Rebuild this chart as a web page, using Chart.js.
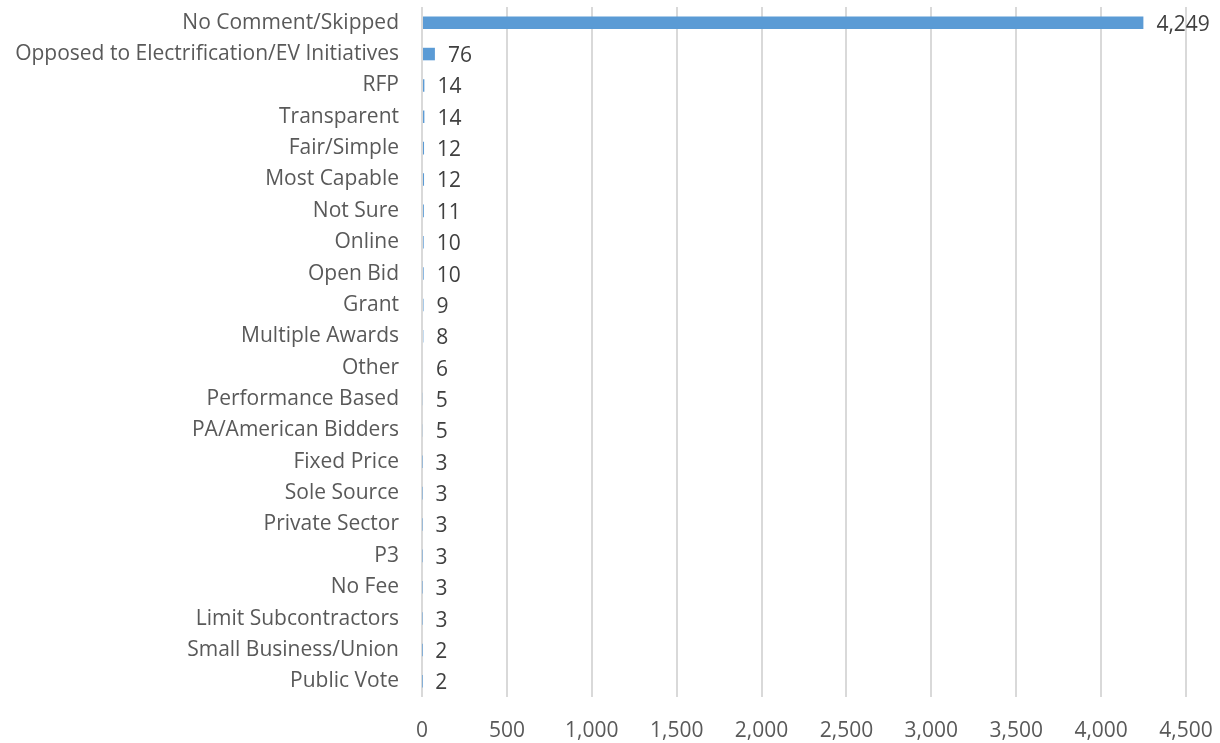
<!DOCTYPE html>
<html>
<head>
<meta charset="utf-8">
<script src="https://cdn.jsdelivr.net/npm/chart.js@4"></script>
<style>
html,body{margin:0;padding:0;background:#fff;}
#wrap{width:1220px;height:743px;position:relative;}
</style>
</head>
<body>
<div id="wrap"><canvas id="c" width="1220" height="743"></canvas></div>
<script>
const categories = ["No Comment/Skipped","Opposed to Electrification/EV Initiatives","RFP","Transparent","Fair/Simple","Most Capable","Not Sure","Online","Open Bid","Grant","Multiple Awards","Other","Performance Based","PA/American Bidders","Fixed Price","Sole Source","Private Sector","P3","No Fee","Limit Subcontractors","Small Business/Union","Public Vote"];
const counts = [4249,76,14,14,12,12,11,10,10,9,8,6,5,5,3,3,3,3,3,3,2,2];
const xTicks = [0,500,1000,1500,2000,2500,3000,3500,4000,4500];

const FONT = "'Open Sans', Lato, sans-serif";
const FSIZE = 21;

const valueLabels = {
  id: 'valueLabels',
  afterDatasetsDraw(chart) {
    const ctx = chart.ctx;
    const meta = chart.getDatasetMeta(0);
    ctx.save();
    ctx.font = FSIZE + "px " + FONT;
    ctx.fillStyle = "#404040";
    ctx.textAlign = "left";
    ctx.textBaseline = "middle";
    meta.data.forEach((bar, i) => {
      ctx.fillText(counts[i].toLocaleString('en-US'), bar.x + 13, bar.y + 2);
    });
    ctx.restore();
  }
};

new Chart(document.getElementById('c'), {
  type: 'bar',
  data: {
    labels: categories,
    datasets: [{
      data: counts,
      backgroundColor: '#5b9bd5',
      borderWidth: 0,
      categoryPercentage: 1,
      barPercentage: 0.4
    }]
  },
  plugins: [valueLabels],
  options: {
    indexAxis: 'y',
    responsive: false,
    animation: false,
    layout: { padding: { top: 7, right: 34, left: 0, bottom: 0 } },
    plugins: { legend: { display: false }, tooltip: { enabled: false } },
    scales: {
      x: {
        min: 0, max: 4500,
        afterBuildTicks: s => { s.ticks = xTicks.map(v => ({ value: v })); },
        afterFit: s => { s.height = 46; s.paddingLeft = 0; s.paddingRight = 0; },
        grid: { color: '#d9d9d9', lineWidth: 2, drawTicks: false },
        border: { display: false },
        ticks: {
          padding: 21,
          color: '#595959',
          font: { family: FONT, size: FSIZE },
          callback: v => v.toLocaleString('en-US')
        }
      },
      y: {
        afterFit: s => { s.width = 422; s.paddingTop = 0; s.paddingBottom = 0; },
        grid: { display: false, drawTicks: false },
        border: { display: false },
        ticks: {
          padding: 23,
          color: '#595959',
          font: { family: FONT, size: FSIZE },
          autoSkip: false
        }
      }
    }
  }
});
</script>
</body>
</html>
